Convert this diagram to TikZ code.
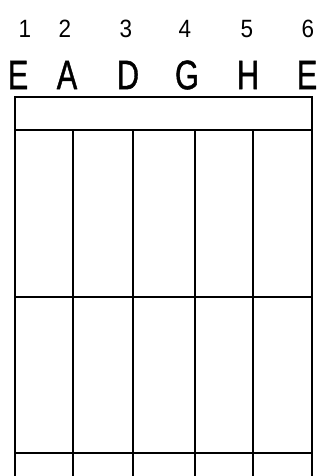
\documentclass[tikz,border=0pt]{standalone}
\usepackage{fontspec}
\setmainfont{Liberation Sans}
\newfontfamily\heavyfont[FakeBold=1.2]{Liberation Sans}
\begin{document}
\begin{tikzpicture}[x=1pt,y=-1pt,
  num/.style={font=\fontsize{25}{25}\selectfont, inner sep=0pt, anchor=center, xscale=0.9},
  letter/.style={font=\heavyfont\fontsize{41}{41}\selectfont, inner sep=0pt, anchor=center, xscale=0.75},
  gridline/.style={line width=2pt, black}]
\useasboundingbox (0,0) rectangle (323,476);
% numbers
\node[num] (n1) at (25,29) {1};
\node[num] (n2) at (65,29) {2};
\node[num] (n3) at (126,29) {3};
\node[num] (n4) at (185,29) {4};
\node[num] (n5) at (247,29) {5};
\node[num] (n6) at (308,29) {6};
% letters
\node[letter] (l1) at (18,75) {E};
\node[letter] (l2) at (67,75) {A};
\node[letter] (l3) at (128,75) {D};
\node[letter] (l4) at (187,75) {G};
\node[letter] (l5) at (248,75) {H};
\node[letter] (l6) at (307,75) {E};
% top box
\draw[gridline] (15,97) rectangle (312,130);
% vertical lines
\foreach \x in {15,73,133,195,253,312}
  \draw[gridline] (\x,130) -- (\x,476);
% horizontal frets
\draw[gridline] (15,297) -- (312,297);
\draw[gridline] (15,453) -- (312,453);
\end{tikzpicture}
\end{document}
